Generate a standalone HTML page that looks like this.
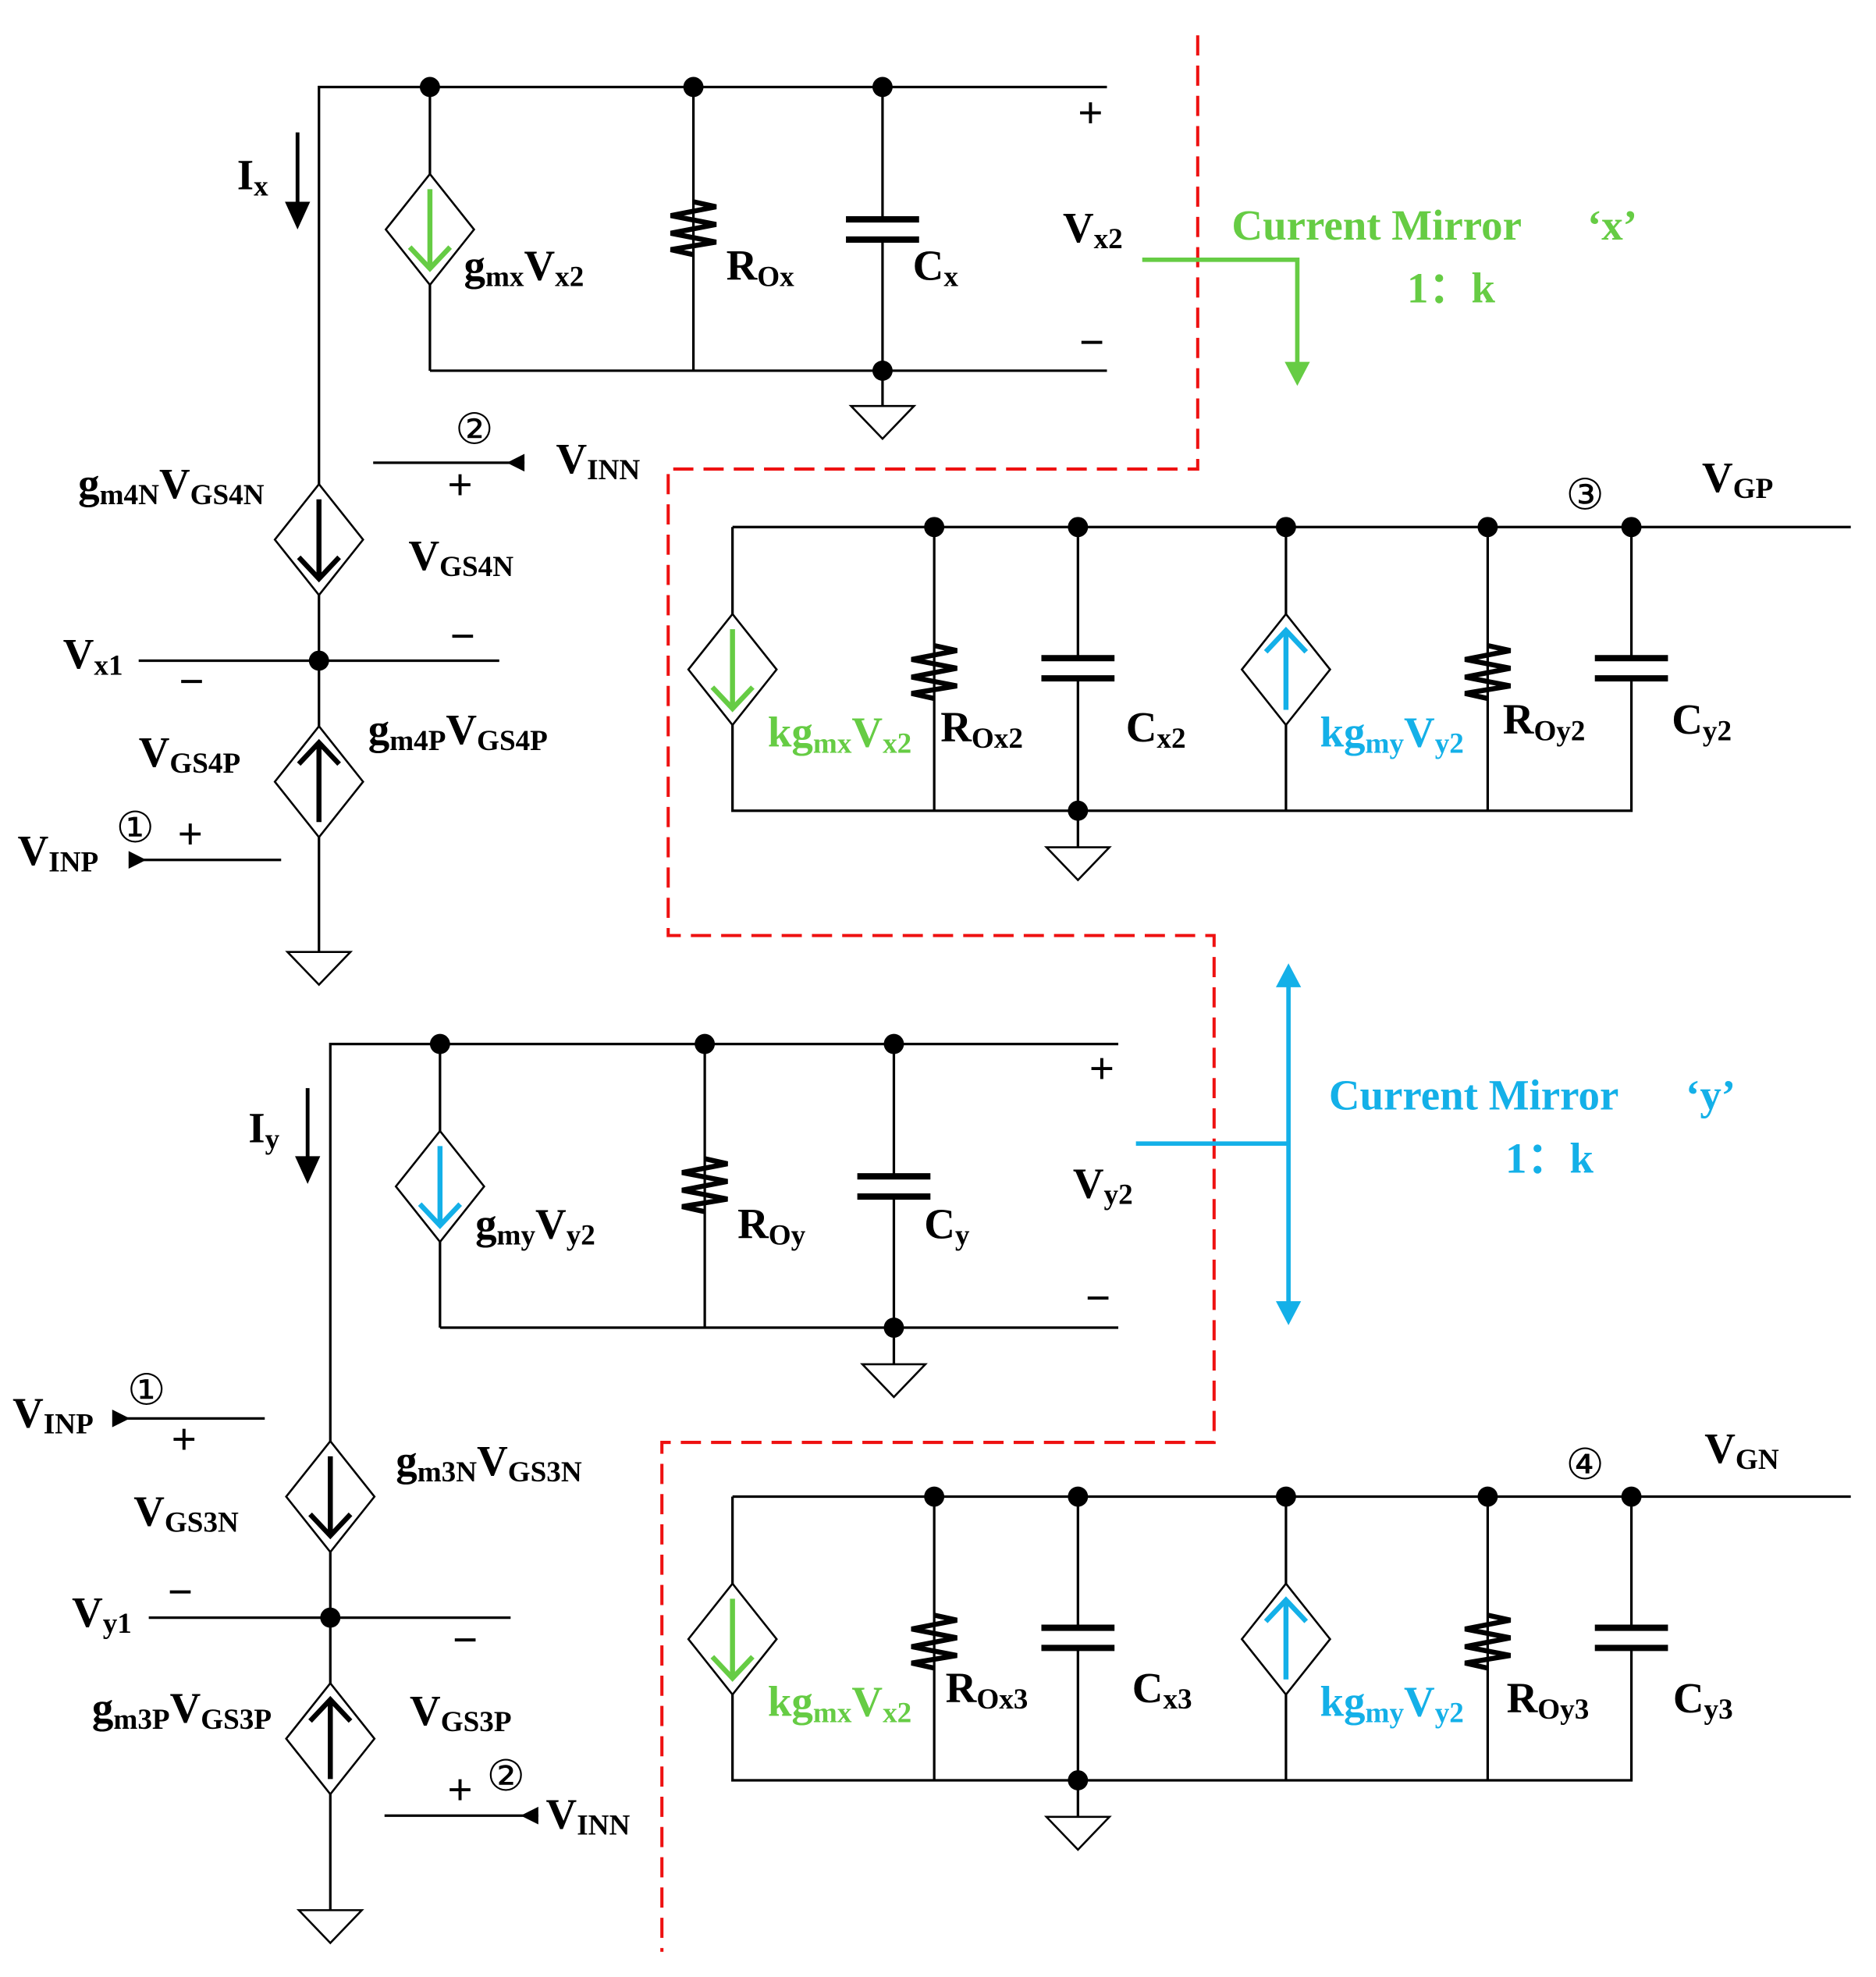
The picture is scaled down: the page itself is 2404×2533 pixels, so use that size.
<!DOCTYPE html>
<html><head><meta charset="utf-8"><style>
html,body{margin:0;padding:0;background:#fff}
svg{display:block}
text{font-family:"Liberation Serif",serif;font-weight:bold;font-size:34px;fill:#000}
.s{font-size:23px}
.g{fill:#66cc44}
.b{fill:#14b0e8}
.n{font-weight:normal;font-family:"Liberation Sans",sans-serif;font-size:34px}
.c{font-weight:normal;font-family:"Liberation Sans","DejaVu Sans",sans-serif;font-size:34px}
</style></head><body>
<svg width="2404" height="2533" viewBox="0 0 1488 1568" preserveAspectRatio="none" xmlns="http://www.w3.org/2000/svg">
<defs>
<path id="res" d="M0,0 L18,4 L-18,11 L18,18 L-18,25 L18,32 L-18,38 L0,42" fill="none" stroke="#000" stroke-width="4"/>
<g id="cap" stroke="#000" stroke-width="5"><line x1="-29" y1="0" x2="29" y2="0"/><line x1="-29" y1="16" x2="29" y2="16"/></g>
<path id="gnd" d="M-25,0 L25,0 L0,26 Z" fill="#fff" stroke="#000" stroke-width="1.6"/>
<polygon id="dia" points="0,-44 35,0 0,44 -35,0" fill="#fff" stroke="#000" stroke-width="1.6"/>
<g id="adn"><line x1="0" y1="-32" x2="0" y2="30" stroke-width="4"/><polyline points="-16,14 0,31 16,14" fill="none" stroke-width="4"/></g>
<g id="aup"><line x1="0" y1="32" x2="0" y2="-30" stroke-width="4"/><polyline points="-16,-14 0,-31 16,-14" fill="none" stroke-width="4"/></g>
</defs>

<g stroke="#000" stroke-width="2" fill="none">
<polyline points="878,69 253,69 253,755"/>
<line x1="341" y1="69" x2="341" y2="294"/>
<line x1="341" y1="294" x2="878" y2="294"/>
<line x1="550" y1="69" x2="550" y2="294"/>
<line x1="700" y1="69" x2="700" y2="322"/>
<line x1="110" y1="524" x2="396" y2="524"/>
<line x1="105" y1="682" x2="223" y2="682"/>
<line x1="296" y1="367" x2="416" y2="367"/>
<line x1="581" y1="418" x2="1468" y2="418"/>
<polyline points="581,418 581,643 1294,643 1294,418"/>
<line x1="741" y1="418" x2="741" y2="643"/>
<line x1="855" y1="418" x2="855" y2="672"/>
<line x1="1020" y1="418" x2="1020" y2="643"/>
<line x1="1180" y1="418" x2="1180" y2="643"/>
<polyline points="887,828 262,828 262,1515"/>
<line x1="349" y1="828" x2="349" y2="1053"/>
<line x1="349" y1="1053" x2="887" y2="1053"/>
<line x1="559" y1="828" x2="559" y2="1053"/>
<line x1="709" y1="828" x2="709" y2="1082"/>
<line x1="118" y1="1283" x2="405" y2="1283"/>
<line x1="90" y1="1125" x2="210" y2="1125"/>
<line x1="305" y1="1440" x2="427" y2="1440"/>
<line x1="581" y1="1187" x2="1468" y2="1187"/>
<polyline points="581,1187 581,1412 1294,1412 1294,1187"/>
<line x1="741" y1="1187" x2="741" y2="1412"/>
<line x1="855" y1="1187" x2="855" y2="1441"/>
<line x1="1020" y1="1187" x2="1020" y2="1412"/>
<line x1="1180" y1="1187" x2="1180" y2="1412"/>
</g>

<polygon points="102,675 116,682 102,689" fill="#000"/>
<polygon points="416,360 402,367 416,374" fill="#000"/>
<polygon points="89,1118 103,1125 89,1132" fill="#000"/>
<polygon points="427,1433 413,1440 427,1447" fill="#000"/>

<use href="#res" x="550" y="160"/>
<use href="#res" x="741" y="512"/>
<use href="#res" x="1180" y="512"/>
<use href="#res" x="559" y="919"/>
<use href="#res" x="741" y="1281"/>
<use href="#res" x="1180" y="1281"/>
<g fill="none">
<rect x="670" y="174" width="60" height="16" fill="#fff" stroke="none"/><use href="#cap" x="700" y="174"/>
<rect x="825" y="522" width="60" height="16" fill="#fff" stroke="none"/><use href="#cap" x="855" y="522"/>
<rect x="1264" y="522" width="60" height="16" fill="#fff" stroke="none"/><use href="#cap" x="1294" y="522"/>
<rect x="679" y="933" width="60" height="16" fill="#fff" stroke="none"/><use href="#cap" x="709" y="933"/>
<rect x="825" y="1291" width="60" height="16" fill="#fff" stroke="none"/><use href="#cap" x="855" y="1291"/>
<rect x="1264" y="1291" width="60" height="16" fill="#fff" stroke="none"/><use href="#cap" x="1294" y="1291"/>
</g>
<use href="#gnd" x="700" y="322"/>
<use href="#gnd" x="253" y="755"/>
<use href="#gnd" x="855" y="672"/>
<use href="#gnd" x="709" y="1082"/>
<use href="#gnd" x="262" y="1515"/>
<use href="#gnd" x="855" y="1441"/>
<use href="#dia" x="341" y="182"/><use href="#adn" x="341" y="182" stroke="#66cc44"/>
<use href="#dia" x="253" y="428"/><use href="#adn" x="253" y="428" stroke="#000"/>
<use href="#dia" x="253" y="620"/><use href="#aup" x="253" y="620" stroke="#000"/>
<use href="#dia" x="581" y="531"/><use href="#adn" x="581" y="531" stroke="#66cc44"/>
<use href="#dia" x="1020" y="531"/><use href="#aup" x="1020" y="531" stroke="#14b0e8"/>
<use href="#dia" x="349" y="941"/><use href="#adn" x="349" y="941" stroke="#14b0e8"/>
<use href="#dia" x="262" y="1187"/><use href="#adn" x="262" y="1187" stroke="#000"/>
<use href="#dia" x="262" y="1379"/><use href="#aup" x="262" y="1379" stroke="#000"/>
<use href="#dia" x="581" y="1300"/><use href="#adn" x="581" y="1300" stroke="#66cc44"/>
<use href="#dia" x="1020" y="1300"/><use href="#aup" x="1020" y="1300" stroke="#14b0e8"/>

<g fill="#000">
<circle cx="341" cy="69" r="8"/><circle cx="550" cy="69" r="8"/><circle cx="700" cy="69" r="8"/><circle cx="700" cy="294" r="8"/>
<circle cx="253" cy="524" r="8"/>
<circle cx="741" cy="418" r="8"/><circle cx="855" cy="418" r="8"/><circle cx="1020" cy="418" r="8"/><circle cx="1180" cy="418" r="8"/><circle cx="1294" cy="418" r="8"/><circle cx="855" cy="643" r="8"/>
<circle cx="349" cy="828" r="8"/><circle cx="559" cy="828" r="8"/><circle cx="709" cy="828" r="8"/><circle cx="709" cy="1053" r="8"/>
<circle cx="262" cy="1283" r="8"/>
<circle cx="741" cy="1187" r="8"/><circle cx="855" cy="1187" r="8"/><circle cx="1020" cy="1187" r="8"/><circle cx="1180" cy="1187" r="8"/><circle cx="1294" cy="1187" r="8"/><circle cx="855" cy="1412" r="8"/>
</g>

<line x1="236" y1="105" x2="236" y2="165" stroke="#000" stroke-width="3"/>
<polygon points="226,160 246,160 236,182" fill="#000"/>
<line x1="244" y1="863" x2="244" y2="922" stroke="#000" stroke-width="3"/>
<polygon points="234,917 254,917 244,939" fill="#000"/>

<polyline points="950,28 950,372 530,372 530,742 963,742 963,1144 525,1144 525,1548" fill="none" stroke="#ee1111" stroke-width="2.5" stroke-dasharray="16,8"/>

<polyline points="906,206 1029,206 1029,290" fill="none" stroke="#66cc44" stroke-width="3.5"/>
<polygon points="1019,287 1039,287 1029,306" fill="#66cc44"/>
<line x1="1022" y1="780" x2="1022" y2="1036" stroke="#14b0e8" stroke-width="3.5"/>
<line x1="901" y1="907" x2="1022" y2="907" stroke="#14b0e8" stroke-width="3.5"/>
<polygon points="1012,783 1032,783 1022,764" fill="#14b0e8"/>
<polygon points="1012,1032 1032,1032 1022,1051" fill="#14b0e8"/>

<text x="188" y="150">I<tspan class="s" dy="5">x</tspan></text>
<text x="368" y="222">g<tspan class="s" dy="5">mx</tspan><tspan dy="-5">V</tspan><tspan class="s" dy="5">x2</tspan></text>
<text x="576" y="222">R<tspan class="s" dy="5">Ox</tspan></text>
<text x="724" y="222">C<tspan class="s" dy="5">x</tspan></text>
<text class="n" x="855" y="101">+</text>
<text class="n" x="856" y="283">−</text>
<text x="843" y="192">V<tspan class="s" dy="5">x2</tspan></text>
<text class="g" x="977" y="190">Current Mirror</text>
<text class="g" x="1259" y="190">‘x’</text>
<text class="g" x="1116" y="240">1：k</text>

<text x="62" y="395">g<tspan class="s" dy="5">m4N</tspan><tspan dy="-5">V</tspan><tspan class="s" dy="5">GS4N</tspan></text>
<text class="c" x="361" y="352">②</text>
<text class="n" x="355" y="396">+</text>
<text x="441" y="375">V<tspan class="s" dy="5">INN</tspan></text>
<text x="324" y="452">V<tspan class="s" dy="5">GS4N</tspan></text>
<text class="n" x="357" y="516">−</text>
<text x="50" y="530">V<tspan class="s" dy="5">x1</tspan></text>
<text class="n" x="142" y="552">−</text>
<text x="292" y="590">g<tspan class="s" dy="5">m4P</tspan><tspan dy="-5">V</tspan><tspan class="s" dy="5">GS4P</tspan></text>
<text x="110" y="608">V<tspan class="s" dy="5">GS4P</tspan></text>
<text class="c" x="92" y="668">①</text>
<text class="n" x="141" y="673">+</text>
<text x="14" y="686">V<tspan class="s" dy="5">INP</tspan></text>

<text class="g" x="609" y="592">kg<tspan class="s" dy="5">mx</tspan><tspan dy="-5">V</tspan><tspan class="s" dy="5">x2</tspan></text>
<text x="746" y="588">R<tspan class="s" dy="5">Ox2</tspan></text>
<text x="893" y="588">C<tspan class="s" dy="5">x2</tspan></text>
<text class="b" x="1047" y="592">kg<tspan class="s" dy="5">my</tspan><tspan dy="-5">V</tspan><tspan class="s" dy="5">y2</tspan></text>
<text x="1192" y="582">R<tspan class="s" dy="5">Oy2</tspan></text>
<text x="1326" y="582">C<tspan class="s" dy="5">y2</tspan></text>
<text class="c" x="1242" y="404">③</text>
<text x="1350" y="390">V<tspan class="s" dy="5">GP</tspan></text>

<text x="197" y="906">I<tspan class="s" dy="5">y</tspan></text>
<text x="377" y="982">g<tspan class="s" dy="5">my</tspan><tspan dy="-5">V</tspan><tspan class="s" dy="5">y2</tspan></text>
<text x="585" y="982">R<tspan class="s" dy="5">Oy</tspan></text>
<text x="733" y="982">C<tspan class="s" dy="5">y</tspan></text>
<text class="n" x="864" y="859">+</text>
<text class="n" x="861" y="1041">−</text>
<text x="851" y="950">V<tspan class="s" dy="5">y2</tspan></text>
<text class="b" x="1054" y="880">Current Mirror</text>
<text class="b" x="1337" y="880">‘y’</text>
<text class="b" x="1194" y="930">1：k</text>

<text x="10" y="1132">V<tspan class="s" dy="5">INP</tspan></text>
<text class="c" x="101" y="1114">①</text>
<text class="n" x="136" y="1153">+</text>
<text x="314" y="1170">g<tspan class="s" dy="5">m3N</tspan><tspan dy="-5">V</tspan><tspan class="s" dy="5">GS3N</tspan></text>
<text x="106" y="1210">V<tspan class="s" dy="5">GS3N</tspan></text>
<text class="n" x="133" y="1274">−</text>
<text x="57" y="1290">V<tspan class="s" dy="5">y1</tspan></text>
<text class="n" x="359" y="1312">−</text>
<text x="73" y="1366">g<tspan class="s" dy="5">m3P</tspan><tspan dy="-5">V</tspan><tspan class="s" dy="5">GS3P</tspan></text>
<text x="325" y="1368">V<tspan class="s" dy="5">GS3P</tspan></text>
<text class="n" x="355" y="1431">+</text>
<text class="c" x="386" y="1420">②</text>
<text x="433" y="1450">V<tspan class="s" dy="5">INN</tspan></text>

<text class="g" x="609" y="1361">kg<tspan class="s" dy="5">mx</tspan><tspan dy="-5">V</tspan><tspan class="s" dy="5">x2</tspan></text>
<text x="750" y="1350">R<tspan class="s" dy="5">Ox3</tspan></text>
<text x="898" y="1350">C<tspan class="s" dy="5">x3</tspan></text>
<text class="b" x="1047" y="1361">kg<tspan class="s" dy="5">my</tspan><tspan dy="-5">V</tspan><tspan class="s" dy="5">y2</tspan></text>
<text x="1195" y="1358">R<tspan class="s" dy="5">Oy3</tspan></text>
<text x="1327" y="1358">C<tspan class="s" dy="5">y3</tspan></text>
<text class="c" x="1242" y="1173">④</text>
<text x="1352" y="1160">V<tspan class="s" dy="5">GN</tspan></text>
</svg>
</body></html>
